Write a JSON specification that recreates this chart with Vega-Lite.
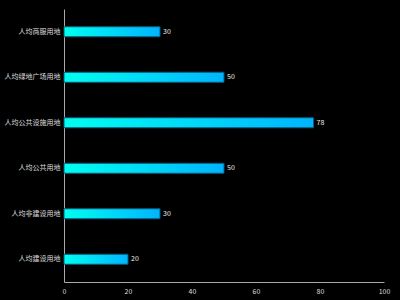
{
  "$schema": "https://vega.github.io/schema/vega-lite/v6.json",
  "width": 320,
  "height": 273,
  "autosize": {"type": "none"},
  "padding": {"left": 64, "top": 9, "right": 16, "bottom": 18},
  "background": "#000000",
  "config": {"view": {"stroke": null}, "font": "Noto Sans CJK SC"},
  "data": {
    "values": [
      {"name": "人均商服用地", "value": 30},
      {"name": "人均绿地广场用地", "value": 50},
      {"name": "人均公共设施用地", "value": 78},
      {"name": "人均公共用地", "value": 50},
      {"name": "人均非建设用地", "value": 30},
      {"name": "人均建设用地", "value": 20}
    ]
  },
  "encoding": {
    "y": {
      "field": "name", "type": "nominal", "sort": null, "title": null,
      "axis": {"domain": true, "domainColor": "#aaaaaa", "ticks": false, "labelColor": "#dddddd", "labelFontSize": 7, "labelPadding": 4, "grid": false}
    },
    "x": {
      "field": "value", "type": "quantitative", "title": null,
      "scale": {"domain": [0, 100]},
      "axis": {"values": [0, 20, 40, 60, 80, 100], "labelFlush": false, "domainColor": "#aaaaaa", "ticks": false, "labelColor": "#dddddd", "labelFontSize": 7, "labelPadding": 5, "grid": false}
    }
  },
  "layer": [
    {
      "mark": {
        "type": "bar", "size": 10, "stroke": "#0a5a7a", "strokeWidth": 1,
        "color": {"gradient": "linear", "x1": 0, "y1": 0, "x2": 1, "y2": 0,
          "stops": [{"offset": 0, "color": "#00fff0"}, {"offset": 1, "color": "#00b4ff"}]}
      }
    },
    {
      "mark": {"type": "text", "align": "left", "dx": 3, "fontSize": 7, "color": "#eeeeee"},
      "encoding": {"text": {"field": "value", "type": "quantitative"}}
    }
  ]
}
